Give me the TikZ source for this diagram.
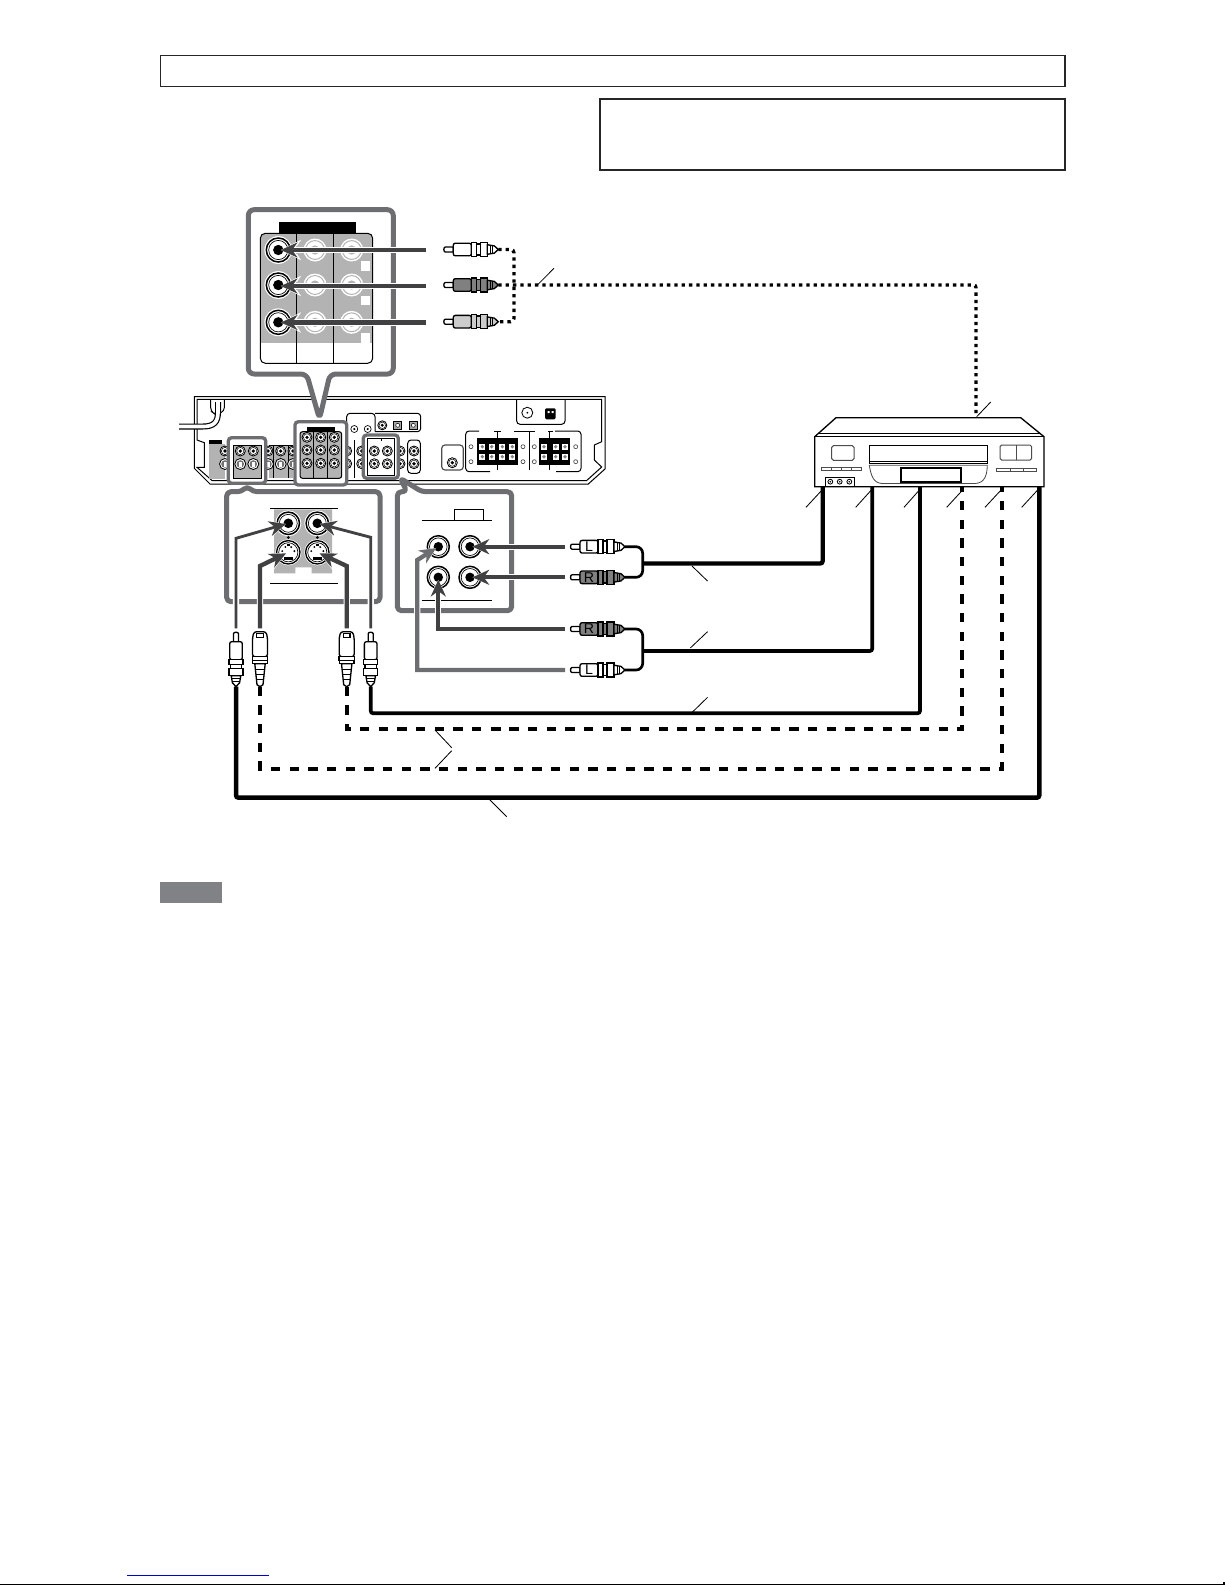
\documentclass[tikz,border=0pt]{standalone}
\usepackage{fontspec}
\setsansfont{Liberation Sans}
\usetikzlibrary{arrows.meta}

\definecolor{framegray}{HTML}{6D6E71}
\definecolor{panelgray}{HTML}{B3B3B3}
\definecolor{feedgray}{HTML}{414042}
\definecolor{notegray}{HTML}{808285}

\tikzset{
  framebox/.style={draw=black!85,line width=.8pt},
  calloutframe/.style={draw=framegray,fill=white,line width=3pt,line join=round,rounded corners=3.5pt},
  minicallout/.style={draw=framegray,line width=2pt,rounded corners=2pt},
  hairline/.style={draw=black,line width=.6pt},
  plugline/.style={draw=black,line width=.8pt},
  leaderline/.style={draw=black,line width=.5pt},
  feedarrow/.style={draw=feedgray,line width=2.6pt,shorten >=1.5pt,
    -{Stealth[length=10pt,width=9pt]},
    preaction={draw=white,line width=3.8pt,-{Stealth[length=12pt,width=12pt]}}},
  thinfeed/.style={feedarrow,line width=1.7pt},
  avcable/.style={draw=black,line width=2.2pt,rounded corners=1.5pt},
  forkcable/.style={draw=black,line width=1.6pt,rounded corners=4pt},
  dashcable/.style={draw=black,line width=2.5pt,dash pattern=on 5.6pt off 5.6pt},
  dotcable/.style={draw=black,line width=2pt,dash pattern=on 2pt off 2.4pt},
  plugletter/.style={font=\sffamily\fontsize{8.5}{8.5}\selectfont,inner sep=0pt},
  % RCA plug, pin at the origin, lying along x
  rcaplug/.pic={
    \draw[plugline,fill=white] (10,-2.5) -- (2,-2.5) to[out=180,in=180] (2,2.5) -- (10,2.5) -- cycle;
    \draw[plugline,fill=#1,rounded corners=1.2pt] (10,-6.3) rectangle (28,6.3);
    \draw[plugline,fill=#1] (28,-6.9) rectangle (33,6.9);
    \draw[plugline,fill=#1] (33,-5.6) rectangle (37,5.6);
    \draw[plugline,fill=#1] (37,-6.9) rectangle (44,6.9);
    \draw[plugline,fill=#1] (44,-4.8) -- (51,-3.6) -- (55,0) -- (51,3.6) -- (44,4.8) -- cycle;
    \draw[hairline] (47,-4.2) -- (47,4.2) (49.5,-3.8) -- (49.5,3.8);
  },
  % S-video plug, lying along x
  svidplug/.pic={
    \draw[plugline,fill=white,rounded corners=1.5pt] (0,-6) -- (6,-7.5) -- (25,-7.5) -- (25,7.5) -- (6,7.5) -- (0,6) -- cycle;
    \draw[plugline,fill=white] (1.5,-3.2) rectangle (6,3.2);
    \draw[plugline,fill=white] (25,-7.8) rectangle (29,7.8);
    \draw[plugline,fill=white] (29,-7.2) rectangle (32,7.2);
    \draw[plugline,fill=white] (32,-5.2) -- (53,-3) -- (55,0) -- (53,3) -- (32,5.2) -- cycle;
    \draw[hairline] (38,-4.6) -- (38,4.6) (43,-4) -- (43,4) (48,-3.6) -- (48,3.6);
  },
  % jack with a black centre, drawn with radius 1
  rcajack/.pic={
    \fill[white] (0,0) circle (1.16);
    \draw[black,line width=.9pt] (0,0) circle (1);
    \draw[black,line width=.4pt] (0,0) circle (.8);
    \fill[black] (0,0) circle (.43);
  },
  palejack/.pic={
    \fill[white] (0,0) circle (1);
    \draw[panelgray,line width=.6pt] (0,0) circle (.82);
    \fill[panelgray] (0,0) circle (.4);
  },
  % S-video jack
  svidjack/.pic={
    \fill[white] (0,0) circle (1.12);
    \draw[black,line width=.8pt] (0,0) circle (1);
    \draw[black,line width=.4pt] (0,0) circle (.82);
    \fill[black] (-.4,.38) rectangle (.4,.66);
    \fill[black] (-.13,-.75) rectangle (.13,-.5);
    \foreach \dotx/\doty in {-.52/-.1,.52/-.1,-.25/-.45,.25/-.45}
      \fill[black] (\dotx,\doty) circle (.09);
  },
  minijack/.pic={
    \draw[black,fill=white,line width=.5pt] (0,0) circle (5);
    \draw[black,line width=.3pt] (0,0) circle (3.6);
    \fill[black] (0,0) circle (1.8);
  },
  minisvid/.pic={
    \draw[black,fill=white,line width=.5pt] (0,0) circle (5.5);
    \fill[black!55] (0,0) circle (3.8);
    \fill[white] (-1.5,-2.5) rectangle (1.5,2.5);
  },
}

\begin{document}
\begin{tikzpicture}[x=0.6pt,y=-0.6pt]
  \useasboundingbox (0,0) rectangle (1225,1585);

  % heading boxes
  \draw[framebox] (160.4,55.3) rectangle (1065,86.3);
  \draw[framebox,line width=1.4pt] (600.3,98.7) rectangle (1065,170);

  % receiver rear panel
  \draw[black,line width=.6pt] (194.3,396.7) -- (605,396.7) -- (605,469) -- (588.3,484) -- (210,484) -- (194.3,468.3) -- cycle;
  \draw[black,line width=.6pt] (197,399.3) -- (601.7,399.3) -- (601.7,441.7) -- (594.3,445) -- (594.3,460) -- (601.7,467) -- (586.7,480.5) -- (212,480.5) -- (197,467.3) -- (204.3,467.3) -- (204.3,442.7) -- (197,440) -- cycle;

  % power cord
  \draw[hairline,rounded corners=2pt] (210.7,399.3) -- (210.7,411) -- (216,415) -- (224.3,411) -- (224.3,399.3);
  \draw[black,line width=.7pt,double=white,double distance=2.2pt] (179,426.5) -- (203,426.5) .. controls (214,426.5) and (218,422) .. (218,412) -- (218,402);

  % block left of the S-video group
  \fill[panelgray] (209.3,444.3) rectangle (225,479.3);
  \fill[black] (209.3,440) rectangle (221.7,444.3);

  % input blocks
  \fill[panelgray] (269,445) rectangle (293,478.3);
  \draw[hairline] (273.7,445) -- (273.7,478.3) (288.3,445) -- (288.3,478.3);
  \draw[hairline] (269,445) -- (293,445);
  \foreach \jackx in {225,268,280.7,293} \pic at (\jackx,451) {minijack};
  \foreach \jackx in {225,268,280.7,293} \pic at (\jackx,464) {minisvid};
  \draw[hairline] (354.3,440) -- (354.3,478);
  \foreach \jackx in {346.7,361.7,400} {
    \pic at (\jackx,451) {minijack};
    \pic at (\jackx,463.7) {minijack};
  }
  \draw[hairline,rounded corners=2pt] (407.7,440) -- (420.3,440) -- (420.3,473.3) -- (407.7,473.3) -- cycle;
  \pic at (414,451) {minijack};
  \pic at (414,463.7) {minijack};

  % upper small sockets
  \draw[hairline,rounded corners=2pt] (346.7,434) -- (346.7,413.3) -- (375,413.3) -- (375,431.7);
  \draw[hairline,rounded corners=2pt] (375,413.3) -- (420.7,413.3) -- (420.7,431.7) -- (375,431.7);
  \foreach \jackx in {354.3,367.7} \draw[black,line width=.4pt] (\jackx,429) circle (3.5);
  \foreach \jackx in {354.3,367.7} \fill[black] (\jackx,429) circle (1.2);
  \pic[scale=.9] at (382.3,425.3) {minijack};
  \foreach \jackx in {397.7,413.3} {
    \draw[black,fill=black!35,line width=.5pt] (\jackx-4,421.3) rectangle (\jackx+4,429.3);
    \draw[black,fill=white,line width=.3pt] (\jackx,425.3) circle (2);
  }

  % antenna box
  \draw[hairline,rounded corners=2pt] (516.7,399.3) -- (516.7,424.3) -- (565,424.3) -- (565,399.3);
  \draw[black,line width=.5pt] (527.3,412.7) circle (5.5);
  \fill[black] (527.3,412.7) circle (1);
  \fill[black,rounded corners=.8pt] (545,408.3) rectangle (555.7,419.3);
  \fill[white] (547.5,411) rectangle (549.5,413) (551.5,411) rectangle (553.5,413);

  % single socket
  \draw[draw=black!70,line width=.7pt,rounded corners=2pt] (441.7,445) rectangle (463.3,470);
  \pic at (452.3,462.7) {minijack};

  % speaker terminals
  \draw[hairline,rounded corners=2pt] (479,431) -- (465.7,431) -- (465.7,471.7) -- (490,471.7);
  \draw[hairline,rounded corners=2pt] (555,431) -- (581,431) -- (581,471.7) -- (556,471.7);
  \draw[hairline] (494,431) -- (501,431) (514,431) -- (535,431) (548,431) -- (553,431);
  \draw[hairline] (529.3,431) -- (529.3,470);
  \fill[black] (477.3,438.3) rectangle (517.7,465);
  \fill[black] (539,438.3) rectangle (570,465);
  \draw[hairline] (497.3,431) -- (497.3,470) (549,431) -- (549,470);
  \foreach \termx in {482.3,491.7,502.3,512.3,544,555.7,565}
    \foreach \termy in {446.7,456.7} {
      \fill[white] (\termx-3,\termy-3) rectangle (\termx+3,\termy+3);
      \fill[black!50] (\termx,\termy) circle (1.8);
    }
  \foreach \termx in {471,523,534.3,575.7}
    \foreach \termy in {446.7,461.7} \draw[black!70,line width=.4pt] (\termx,\termy) circle (2);

  % component group on the panel
  \draw[minicallout,fill=white] (295,421.7) rectangle (346.7,485);
  \fill[black] (307.3,427.3) rectangle (335,431.7);
  \draw[hairline,fill=panelgray,rounded corners=1.5pt] (300,431.7) rectangle (341.7,478.3);
  \draw[hairline] (313.7,431.7) -- (313.7,478.3) (327.7,431.7) -- (327.7,478.3);
  \foreach \jackx in {307,320.7,334.3}
    \foreach \jacky in {437.3,450,463.3} \pic at (\jackx,\jacky) {minijack};

  % S-video group on the panel
  \draw[minicallout,fill=white] (228.3,437.7) rectangle (265.7,483.3);
  \draw[hairline,fill=panelgray] (233.3,445) rectangle (261,478.3);
  \foreach \jackx in {240.3,253.3} {
    \pic at (\jackx,451) {minijack};
    \pic at (\jackx,464) {minisvid};
  }

  % audio group on the panel
  \draw[minicallout,fill=white] (363.3,435) rectangle (398.3,478.3);
  \draw[hairline] (367.7,438.3) rectangle (394,475);
  \draw[hairline] (381,438.3) -- (381,441) (394,438.3) -- (394,441);
  \foreach \jackx in {374.3,387.3} {
    \pic at (\jackx,451) {minijack};
    \pic at (\jackx,463.7) {minijack};
  }

  % callout with the component jacks
  \draw[calloutframe] (248.3,209.7) -- (393.3,209.7) -- (393.3,374) -- (330,374) -- (319.5,419) -- (306.7,374) -- (248.3,374) -- cycle;
  \fill[black] (279,222) rectangle (356,233.3);
  \fill[panelgray,rounded corners=2.5pt] (260.3,233.3) rectangle (372.7,345);
  \fill[white] (260.6,342.7) rectangle (372.4,350);
  \draw[hairline,rounded corners=3pt] (260.3,233.3) rectangle (372.7,363.3);
  \draw[hairline] (296.7,233.3) -- (296.7,363.3) (333.7,233.3) -- (333.7,363.3);
  \foreach \boxy in {261,295.7,333} \fill[white] (361.3,\boxy) rectangle (370,\boxy+9.7);
  \foreach \jacky in {250,285,322.3} {
    \pic[scale=11.5] at (315,\jacky) {palejack};
    \pic[scale=11.5] at (351.7,\jacky) {palejack};
    \pic[scale=12] at (278.3,\jacky) {rcajack};
  }

  % callout with the S-video jacks
  \draw[calloutframe,rounded corners=2.5pt] (226.7,491.7) -- (241.7,491.7) -- (247,486) -- (253,491.7) -- (380,491.7) -- (380,601.7) -- (226.7,601.7) -- cycle;
  \fill[panelgray] (274,509.3) -- (332,509.3) -- (332,573.3) -- (311.7,573.3) -- (311.7,567.3) -- (295.3,567.3) -- (295.3,573.3) -- (274,573.3) -- cycle;
  \draw[hairline] (270,508.3) -- (337.7,508.3) (270,583.3) -- (337.7,583.3);
  \pic[scale=11.2] at (288.3,523.3) {rcajack};
  \pic[scale=11.2] at (317.3,523.3) {rcajack};
  \pic[scale=11.7] at (288.3,552.3) {svidjack};
  \pic[scale=11.7] at (317.3,552.3) {svidjack};
  \foreach \jackx in {288.3,317.3} \fill[black] (\jackx,537.5) circle (1.5);

  % callout with the audio jacks
  \draw[calloutframe,rounded corners=2.5pt] (397.3,491.7) -- (407,491.7) -- (400,478) -- (421.7,491.7) -- (511.7,491.7) -- (511.7,610.7) -- (397.3,610.7) -- cycle;
  \draw[hairline] (421.7,520.7) -- (492.3,520.7) (421.7,600) -- (492.3,600);
  \draw[hairline,line width=.9pt] (454.3,520.7) -- (454.3,509.3) -- (483.3,509.3) -- (483.3,520.7);
  \foreach \jackx in {438.3,470}
    \foreach \jacky in {546.7,577.3} \pic[scale=11] at (\jackx,\jacky) {rcajack};

  % video cassette recorder
  \draw[black,fill=white,line width=.8pt] (814.7,436.7) -- (836,417.7) -- (1020.7,417.7) -- (1044,436.7) -- (1044,486.7) -- (814.7,486.7) -- cycle;
  \draw[hairline] (818,433.3) -- (1040,433.3) (814.7,436.7) -- (1044,436.7);
  \draw[black!70,line width=.6pt,rounded corners=1pt] (831.7,445.7) rectangle (854,460.3);
  \draw[black!70,line width=.6pt,rounded corners=1pt] (1000,445) rectangle (1031.7,460);
  \draw[black!70,line width=.6pt] (1016,445) -- (1016,460);
  \draw[hairline] (869.3,445.3) rectangle (987.3,463);
  \draw[black,line width=.3pt] (869.3,461.3) -- (987.3,461.3);
  \draw[black!70,line width=.6pt] (821.3,467.3) rectangle (861.7,470.7);
  \draw[black!70,line width=.4pt] (831.7,467.3) -- (831.7,470.7) (841.7,467.3) -- (841.7,470.7) (851.7,467.3) -- (851.7,470.7);
  \draw[black!70,line width=.6pt] (996.7,468.3) rectangle (1036.7,471.7);
  \draw[black!70,line width=.4pt] (1010,468.3) -- (1010,471.7) (1023.3,468.3) -- (1023.3,471.7);
  \draw[black!70,line width=.5pt] (869.3,465.3) -- (987.3,465.3) .. controls (987,475) and (985,483) .. (975,483.5) -- (882,483.5) .. controls (873,483) and (871,475) .. (869.3,465.3) -- cycle;
  \draw[black,line width=1pt] (900.7,467.7) rectangle (960.7,481.7);
  \draw[hairline] (825.7,486.7) -- (825.7,477.3) -- (854.3,477.3) -- (854.3,486.7);
  \foreach \jackx in {830.3,839.7,849.3} {
    \draw[black,line width=.5pt] (\jackx,481.7) circle (2.4);
    \fill[black] (\jackx,481.7) circle (.9);
  }

  % plugs
  \pic at (443.3,249.5) {rcaplug=white};
  \pic at (443.3,285) {rcaplug=black!50};
  \pic at (443.3,321.7) {rcaplug=black!20};
  \pic at (570,546.7) {rcaplug=white};
  \pic at (570,577.3) {rcaplug=black!50};
  \pic at (570,629) {rcaplug=black!50};
  \pic at (570,670) {rcaplug=white};
  \node[plugletter] (letterLa) at (589,546.7) {L};
  \node[plugletter] (letterRa) at (589,577.3) {R};
  \node[plugletter] (letterRb) at (589,629) {R};
  \node[plugletter] (letterLb) at (589,670) {L};
  \pic[rotate=-90] at (236,631.7) {rcaplug=white};
  \pic[rotate=-90] at (370.7,631.7) {rcaplug=white};
  \pic[rotate=-90] at (260,631.7) {svidplug};
  \pic[rotate=-90] at (346.7,631.7) {svidplug};

  % connection points
  \coordinate (jackCa) at (278.3,250);
  \coordinate (jackCb) at (278.3,286);
  \coordinate (jackCc) at (278.3,322.5);
  \coordinate (feedCa) at (426,250);
  \coordinate (feedCb) at (426,286);
  \coordinate (feedCc) at (426,322.5);
  \coordinate (jackVa) at (288.3,523.3);
  \coordinate (jackVb) at (317.3,523.3);
  \coordinate (jackSa) at (288.3,552.3);
  \coordinate (jackSb) at (317.3,552.3);
  \coordinate (feedVa) at (236,628.3);
  \coordinate (feedVb) at (370.7,628.3);
  \coordinate (feedSa) at (260,628.3);
  \coordinate (feedSb) at (346.7,628.3);
  \coordinate (bendVa) at (236,538.3);
  \coordinate (bendVb) at (370.7,537.3);
  \coordinate (bendSa) at (260,566);
  \coordinate (bendSb) at (346.7,566);
  \coordinate (jackAa) at (470,546.7);
  \coordinate (jackAb) at (470,577.3);
  \coordinate (jackAc) at (438.3,546.7);
  \coordinate (jackAd) at (438.3,577.3);
  \coordinate (feedAa) at (565,546.7);
  \coordinate (feedAb) at (565,577.3);
  \coordinate (feedAc) at (565,629);
  \coordinate (feedAd) at (565,670);
  \coordinate (bendAd) at (417.3,560);

  % feed arrows
  \draw[feedarrow] (feedCa) -- (jackCa);
  \draw[feedarrow] (feedCb) -- (jackCb);
  \draw[feedarrow] (feedCc) -- (jackCc);
  \draw[thinfeed] (feedVa) -- (bendVa) -- (jackVa);
  \draw[thinfeed] (feedVb) -- (bendVb) -- (jackVb);
  \draw[feedarrow] (feedSa) -- (bendSa) -- (jackSa);
  \draw[feedarrow] (feedSb) -- (bendSb) -- (jackSb);
  \draw[feedarrow] (feedAa) -- (jackAa);
  \draw[feedarrow] (feedAb) -- (jackAb);
  \draw[feedarrow] (feedAc) -| (jackAd);
  \draw[feedarrow,draw=framegray] (feedAd) -| (bendAd) -- (jackAc);

  % recorder side of the cables
  \coordinate (vcrA) at (822.7,487);
  \coordinate (vcrB) at (872.3,487);
  \coordinate (vcrC) at (920,487);
  \coordinate (vcrD) at (962.3,487);
  \coordinate (vcrE) at (1001.7,487);
  \coordinate (vcrF) at (1039.3,487);
  \coordinate (vcrTop) at (976,416.7);

  % plug ends of the cables
  \coordinate (tailCa) at (498.3,249.5);
  \coordinate (tailCb) at (498.3,285);
  \coordinate (tailCc) at (498.3,321.7);
  \coordinate (tailAa) at (625,546.7);
  \coordinate (tailAb) at (625,577.3);
  \coordinate (tailAc) at (625,629);
  \coordinate (tailAd) at (625,670);
  \coordinate (tailVa) at (236,686.7);
  \coordinate (tailVb) at (370.7,686.7);
  \coordinate (tailSa) at (260,686.7);
  \coordinate (tailSb) at (346.7,686.7);
  \coordinate (forkA) at (642.7,563.5);
  \coordinate (forkB) at (642.7,651);

  % cables
  \draw[dotcable,rounded corners=2pt] (tailCa) -| (514,321.7) -- (tailCc);
  \draw[dotcable,rounded corners=1.5pt] (tailCb) -| (vcrTop);
  \draw[forkcable] (tailAa) -| (642.7,577.3) -- (tailAb);
  \draw[forkcable] (tailAc) -| (642.7,670) -- (tailAd);
  \draw[avcable,line width=2.6pt] (forkA) -| (vcrA);
  \draw[avcable] (forkB) -| (vcrB);
  \draw[avcable] (tailVb) |- (713.3,713.3) -| (vcrC);
  \draw[dashcable] (tailSb) |- (500,729.3) -| (vcrD);
  \draw[dashcable] (tailSa) |- (500,769) -| (vcrE);
  \draw[avcable,line width=2.7pt] (tailVa) |- (500,797.7) -| (vcrF);

  % leader lines
  \draw[leaderline] (536.7,285.7) -- (554,268.3);
  \draw[leaderline] (976.7,416.7) -- (990.7,402);
  \draw[leaderline] (822.7,489.3) -- (806,507.3);
  \draw[leaderline] (872,489.3) -- (855.7,507.3);
  \draw[leaderline] (920,489.3) -- (904,507.3);
  \draw[leaderline] (963.3,489.3) -- (946.7,507.3);
  \draw[leaderline] (1001.7,489.3) -- (985,507.3);
  \draw[leaderline] (1038.3,489.3) -- (1021.7,507.3);
  \draw[leaderline] (692,566) -- (707.5,581);
  \draw[leaderline] (690.3,648) -- (707.5,631.7);
  \draw[leaderline] (692,712.5) -- (707.5,697.4);
  \draw[leaderline] (435,730) -- (451.7,747.7);
  \draw[leaderline] (451.7,750.7) -- (435,768.3);
  \draw[leaderline] (489.3,799.3) -- (506.7,816.7);

  % notes tab
  \fill[notegray] (160,882) rectangle (222,903);

  % page foot
  \draw[draw={rgb,255:red,0;green,0;blue,204},line width=.6pt] (127,1575) -- (268.7,1575);
  \draw[black,line width=.7pt] (0,1584.2) -- (1224,1584.2) -- (1224,1582);
\end{tikzpicture}
\end{document}
